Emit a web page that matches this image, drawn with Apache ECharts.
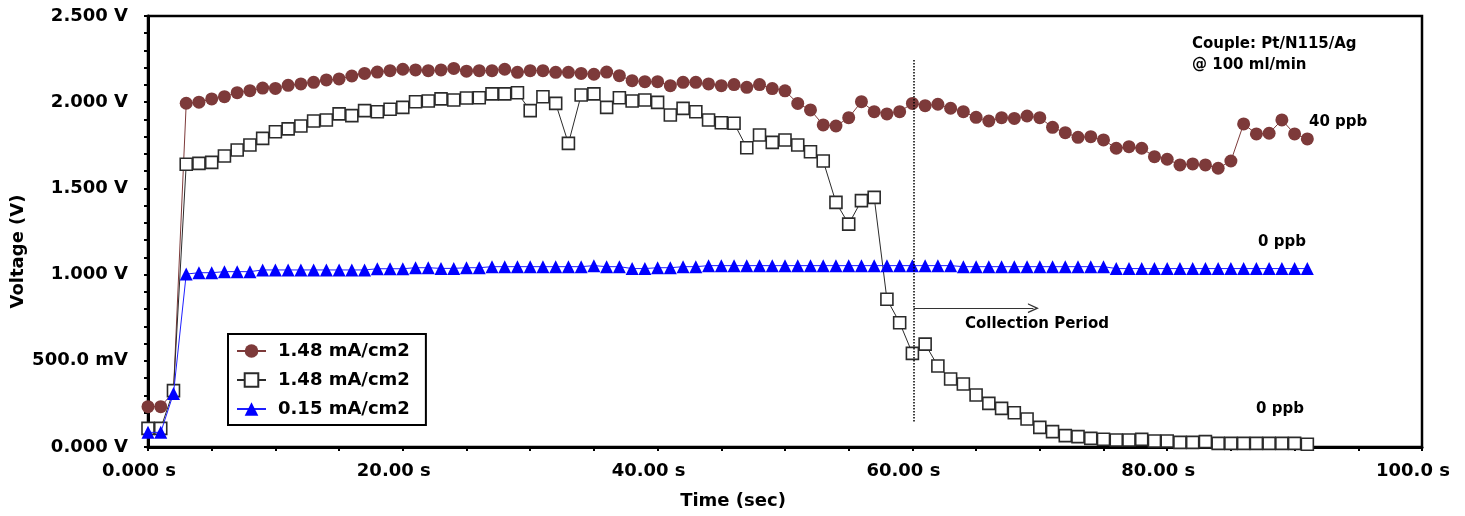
<!DOCTYPE html>
<html>
<head>
<meta charset="utf-8">
<script src="https://cdn.jsdelivr.net/npm/echarts@6/dist/echarts.min.js"></script>
<style>
html,body{margin:0;padding:0;background:#fff;}
#chart{width:1465px;height:516px;}
</style>
</head>
<body>
<div id="chart"></div>
<script>
// ---- data ----
var timeSec = [0,1,2,3,4,5,6,7,8,9,10,11,12,13,14,15,16,17,18,19,20,21,22,23,24,25,26,27,28,29,30,31,32,33,34,35,36,37,38,39,40,41,42,43,44,45,46,47,48,49,50,51,52,53,54,55,56,57,58,59,60,61,62,63,64,65,66,67,68,69,70,71,72,73,74,75,76,77,78,79,80,81,82,83,84,85,86,87,88,89,90,91];

var red40ppb = [0.234,0.234,0.32,
1.994,2.000,2.019,2.032,2.055,2.067,2.082,2.080,2.098,2.106,2.115,2.129,2.135,2.152,2.167,2.175,2.183,2.191,
2.187,2.183,2.187,2.196,2.180,2.183,2.183,2.191,2.173,2.183,2.183,2.173,2.173,2.167,2.162,2.175,2.154,2.125,2.119,2.119,
2.096,2.115,2.115,2.106,2.096,2.102,2.086,2.102,2.079,2.066,1.993,1.955,1.868,1.862,1.910,2.003,1.945,1.932,1.945,1.993,
1.980,1.988,1.965,1.945,1.912,1.891,1.910,1.906,1.920,1.910,1.854,1.823,1.796,1.800,1.781,1.733,1.742,1.733,1.684,1.669,
1.636,1.642,1.636,1.617,1.659,1.874,1.816,1.820,1.897,1.816,1.787];

var black0ppb = [0.108,0.108,0.327,
1.640,1.645,1.651,1.688,1.723,1.752,1.790,1.829,1.845,1.862,1.891,1.897,1.932,1.922,1.951,1.945,1.959,1.970,
2.003,2.007,2.019,2.013,2.024,2.026,2.048,2.048,2.055,1.951,2.032,1.993,1.761,2.042,2.048,1.970,2.026,2.007,2.013,1.999,
1.926,1.964,1.945,1.897,1.881,1.878,1.736,1.810,1.767,1.781,1.752,1.713,1.659,1.419,1.293,1.429,1.448,0.857,0.721,0.543,
0.597,0.470,0.394,0.365,0.302,0.253,0.224,0.199,0.162,0.114,0.089,0.066,0.060,0.050,0.045,0.041,0.041,0.044,0.035,0.035,
0.027,0.027,0.031,0.021,0.021,0.021,0.021,0.021,0.021,0.021,0.016];

var blue0ppb = [0.085,0.085,0.31,
1.003,1.011,1.011,1.017,1.017,1.017,1.027,1.027,1.027,1.027,1.027,1.027,1.027,1.027,1.027,1.034,1.034,1.034,
1.040,1.040,1.036,1.036,1.040,1.040,1.046,1.046,1.046,1.046,1.046,1.046,1.046,1.046,1.052,1.046,1.046,1.035,1.035,1.040,
1.040,1.046,1.046,1.052,1.052,1.052,1.052,1.052,1.052,1.052,1.052,1.052,1.052,1.052,1.052,1.052,1.052,1.052,1.052,1.052,
1.052,1.052,1.052,1.046,1.046,1.046,1.046,1.046,1.046,1.046,1.046,1.046,1.046,1.046,1.046,1.035,1.035,1.035,1.035,1.035,
1.035,1.035,1.035,1.035,1.035,1.035,1.035,1.035,1.035,1.035,1.035];

var seriesNames = ['s40', 's0', 's015'];
var legendLabels = ['1.48 mA/cm2', '1.48 mA/cm2', '0.15 mA/cm2'];
var xTickLabels = ['0.000 s', '20.00 s', '40.00 s', '60.00 s', '80.00 s', '100.0 s'];
var yTickLabels = ['0.000 V', '500.0 mV', '1.000 V', '1.500 V', '2.000 V', '2.500 V'];
var collectionStart = 60.1;
var collectionArrowEnd = 69.5;

function pairs(vals) { return timeSec.map(function (t, i) { return [t, vals[i]]; }); }

var FONT = '"DejaVu Sans", sans-serif';
var chart = echarts.init(document.getElementById('chart'), null, {renderer: 'canvas'});

chart.setOption({
  animation: false,
  backgroundColor: '#fff',
  grid: {left: 148, right: 43, top: 16, bottom: 69, containLabel: false, outerBoundsMode: 'none',
         show: true, borderColor: '#000', borderWidth: 2.5, backgroundColor: 'transparent'},
  legend: {
    orient: 'vertical', left: 228, top: 334,
    data: seriesNames,
    formatter: function (n) { return legendLabels[seriesNames.indexOf(n)]; },
    itemWidth: 29, itemHeight: 17, itemGap: 11,
    padding: [8, 16, 7, 8],
    backgroundColor: '#fff', borderColor: '#000', borderWidth: 2,
    textStyle: {fontFamily: FONT, fontWeight: 'bold', fontSize: 18, color: '#000', padding: [0, 0, 0, 7]},
    selectedMode: false
  },
  xAxis: {
    type: 'value', min: 0, max: 100, interval: 20,
    name: 'Time (sec)', nameLocation: 'middle', nameGap: 45, nameMoveOverlap: false,
    nameTextStyle: {fontFamily: FONT, fontWeight: 'bold', fontSize: 18, color: '#000', padding: [0, 104, 0, 0]},
    axisLine: {show: true, onZero: false, lineStyle: {color: '#000', width: 3}},
    axisTick: {show: true, length: 4, lineStyle: {color: '#000', width: 2}},
    minorTick: {show: true, splitNumber: 4, length: 4, lineStyle: {color: '#000', width: 2}},
    splitLine: {show: false},
    axisLabel: {
      margin: 15, fontFamily: FONT, fontWeight: 'bold', fontSize: 18, color: '#000', padding: [0, 18, 0, 0],
      formatter: function (v) { return xTickLabels[Math.round(v / 20)]; }
    }
  },
  yAxis: {
    type: 'value', min: 0, max: 2.5, interval: 0.5,
    name: 'Voltage (V)', nameLocation: 'middle', nameGap: 121, nameRotate: 90, nameMoveOverlap: false,
    nameTextStyle: {fontFamily: FONT, fontWeight: 'bold', fontSize: 18, color: '#000', padding: [0, 40, 0, 0]},
    axisLine: {show: true, onZero: false, lineStyle: {color: '#000', width: 3}},
    axisTick: {show: true, length: 4, lineStyle: {color: '#000', width: 2}},
    minorTick: {show: true, splitNumber: 5, length: 4, lineStyle: {color: '#000', width: 2}},
    splitLine: {show: false},
    axisLabel: {
      margin: 20, fontFamily: FONT, fontWeight: 'bold', fontSize: 18, color: '#000',
      formatter: function (v) { return yTickLabels[Math.round(v / 0.5)]; }
    }
  },
  series: [
    {
      name: 's40', type: 'line', data: pairs(red40ppb), z: 2,
      symbol: 'circle', symbolSize: 13, showAllSymbol: true,
      itemStyle: {color: '#7d3a3a'},
      lineStyle: {color: '#7d3a3a', width: 1}
    },
    {
      name: 's0', type: 'line', data: pairs(black0ppb), z: 3,
      symbol: 'rect', symbolSize: 12, showAllSymbol: true,
      itemStyle: {color: '#fff', borderColor: '#2b2b2b', borderWidth: 1.6},
      lineStyle: {color: '#2b2b2b', width: 1}
    },
    {
      name: 's015', type: 'line', data: pairs(blue0ppb), z: 4,
      symbol: 'triangle', symbolSize: 13, showAllSymbol: true,
      itemStyle: {color: '#0000ff'},
      lineStyle: {color: '#1f1fff', width: 1},
      markLine: {
        silent: true, animation: false,
        label: {show: false},
        data: [
          [{coord: [collectionStart, 2.245], symbol: 'none', lineStyle: {type: 'dotted', color: '#000', width: 1.5}},
           {coord: [collectionStart, 0.147], symbol: 'none'}],
          [{coord: [collectionStart, 0.805], symbol: 'none', lineStyle: {type: 'solid', color: '#333', width: 1}},
           {coord: [collectionArrowEnd, 0.805], symbol: 'path://M5,0 L10,10 L8.6,10 L5,3 L1.4,10 L0,10 Z', symbolSize: [10, 11]}]
        ]
      }
    }
  ],
  graphic: [
    {type: 'text', x: 1192, y: 44, style: {text: 'Couple: Pt/N115/Ag', font: 'bold 15px ' + FONT, fill: '#000', verticalAlign: 'middle', textVerticalAlign: 'middle'}},
    {type: 'text', x: 1192, y: 65, style: {text: '@ 100 ml/min', font: 'bold 15px ' + FONT, fill: '#000', verticalAlign: 'middle', textVerticalAlign: 'middle'}},
    {type: 'text', x: 1309, y: 122, style: {text: '40 ppb', font: 'bold 15px ' + FONT, fill: '#000', verticalAlign: 'middle', textVerticalAlign: 'middle'}},
    {type: 'text', x: 1258, y: 242, style: {text: '0 ppb', font: 'bold 15px ' + FONT, fill: '#000', verticalAlign: 'middle', textVerticalAlign: 'middle'}},
    {type: 'text', x: 1256, y: 409, style: {text: '0 ppb', font: 'bold 15px ' + FONT, fill: '#000', verticalAlign: 'middle', textVerticalAlign: 'middle'}},
    {type: 'text', x: 965, y: 324, style: {text: 'Collection Period', font: 'bold 15px ' + FONT, fill: '#000', verticalAlign: 'middle', textVerticalAlign: 'middle'}}
  ]
});
</script>
</body>
</html>
